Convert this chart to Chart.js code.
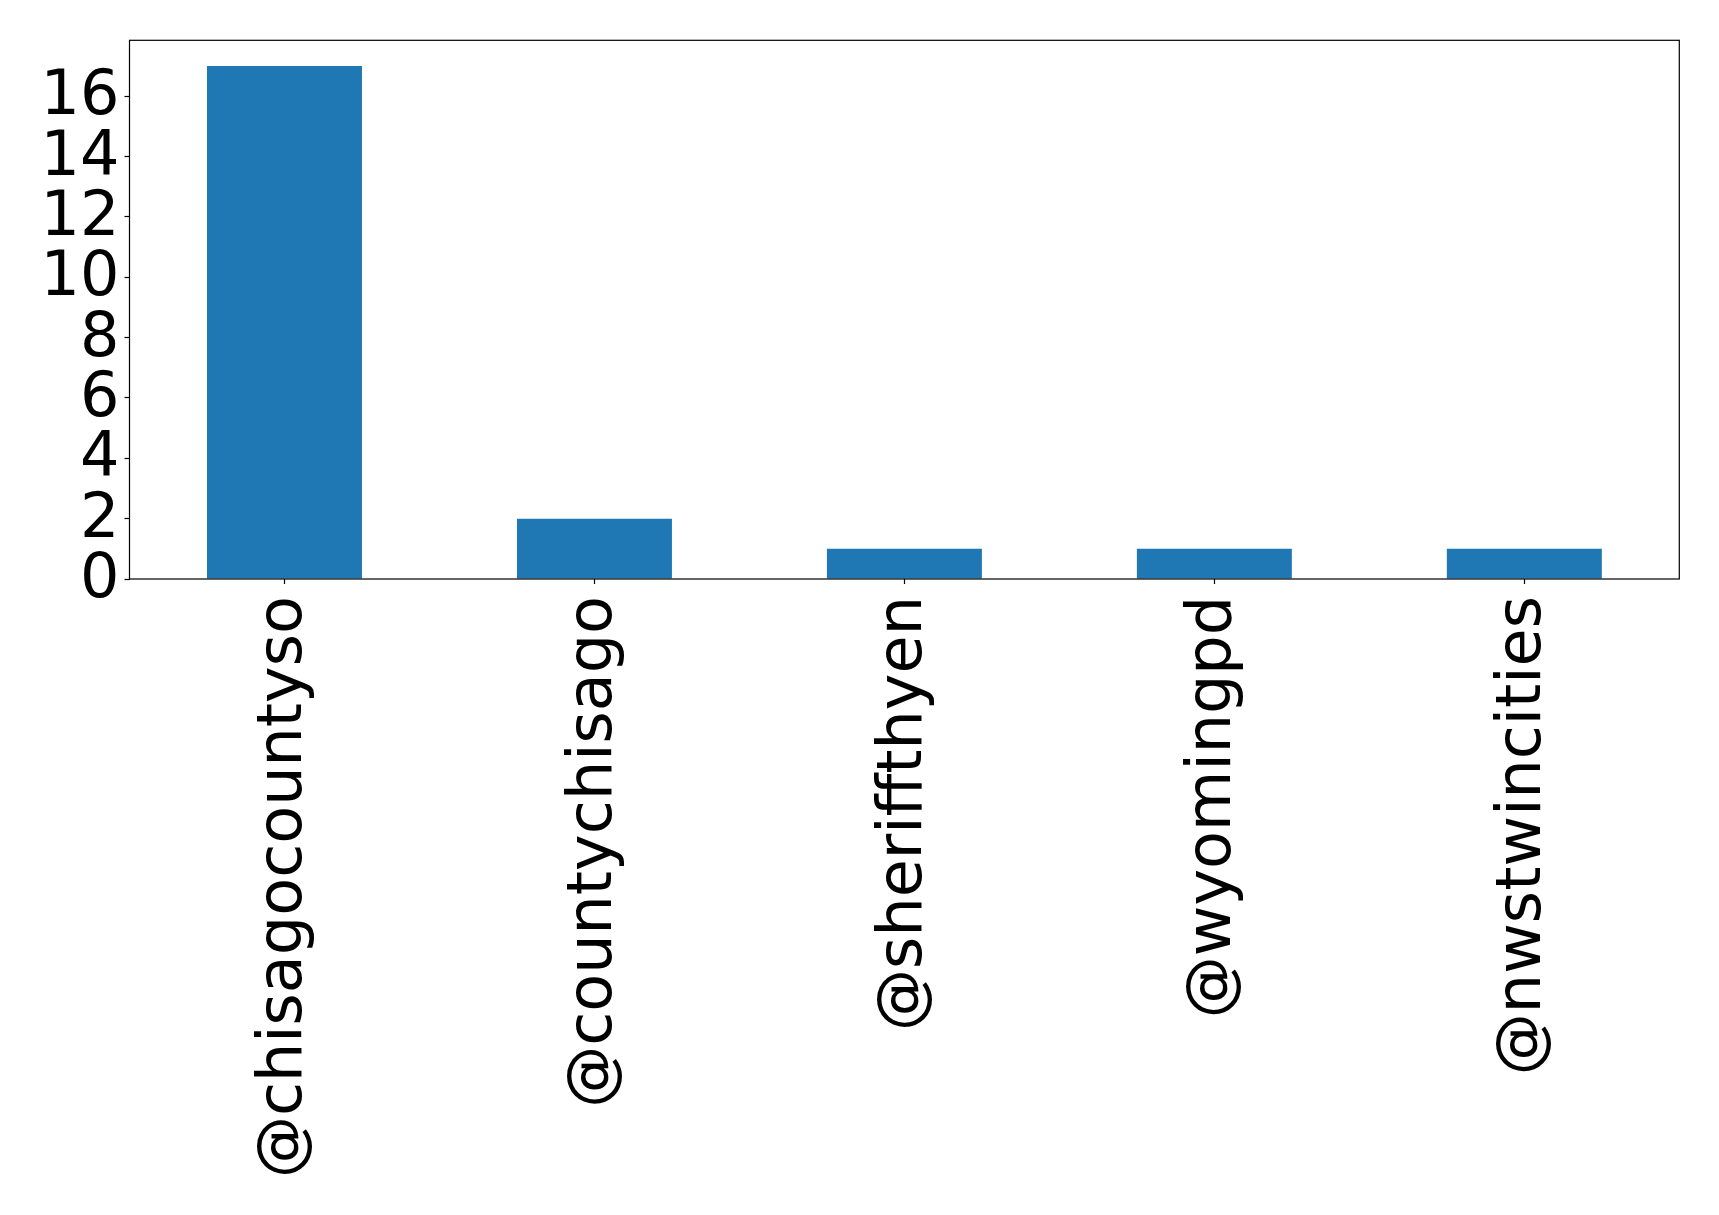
<!DOCTYPE html>
<html>
<head>
<meta charset="utf-8">
<script src="https://cdn.jsdelivr.net/npm/chart.js@4/dist/chart.umd.min.js"></script>
<style>
  body { margin: 0; background: #fff; }
  #wrap { width: 1719px; height: 1215px; }
</style>
</head>
<body>
<div id="wrap"><canvas id="barChart" width="1719" height="1215"></canvas></div>
<script>
const accounts = [
  "@chisagocountyso",
  "@countychisago",
  "@sheriffthyen",
  "@wyomingpd",
  "@nwstwincities",
];
const counts = [17, 2, 1, 1, 1];
const yTicks = [0, 2, 4, 6, 8, 10, 12, 14, 16];

const tickFont = { family: "DejaVu Sans", size: 62 };

// matplotlib-style box around the plot area
const frame = {
  id: "frame",
  afterDraw(chart) {
    const { ctx, chartArea: a } = chart;
    ctx.save();
    ctx.strokeStyle = "#000";
    ctx.lineWidth = 1.2;
    ctx.strokeRect(a.left, a.top, a.right - a.left, a.bottom - a.top);
    ctx.restore();
  },
};

new Chart(document.getElementById("barChart"), {
  type: "bar",
  data: {
    labels: accounts,
    datasets: [
      {
        data: counts,
        backgroundColor: "#1f77b4",
        borderWidth: 0,
        barPercentage: 0.5,
        categoryPercentage: 1,
      },
    ],
  },
  plugins: [frame],
  options: {
    responsive: false,
    animation: false,
    devicePixelRatio: 1,
    layout: { padding: { top: 40.3, right: 39.7, left: 0, bottom: 0 } },
    plugins: {
      legend: { display: false },
      tooltip: { enabled: false },
    },
    scales: {
      x: {
        offset: true,
        border: { display: false },
        grid: {
          display: true,
          offset: false,
          drawOnChartArea: false,
          drawTicks: true,
          tickLength: 5,
          tickWidth: 1.2,
          tickColor: "#000",
        },
        ticks: {
          autoSkip: false,
          minRotation: 90,
          maxRotation: 90,
          padding: 12,
          color: "#000",
          font: tickFont,
        },
        afterFit(scale) {
          scale.height = 636;
          scale.paddingLeft = 0;
          scale.paddingRight = 0;
        },
      },
      y: {
        min: 0,
        max: 17.85,
        border: { display: false },
        grid: {
          display: true,
          drawOnChartArea: false,
          drawTicks: true,
          tickLength: 5,
          tickWidth: 1.2,
          tickColor: "#000",
        },
        ticks: {
          autoSkip: false,
          padding: 5,
          labelOffset: 2,
          color: "#000",
          font: tickFont,
        },
        afterBuildTicks(scale) {
          scale.ticks = yTicks.map((v) => ({ value: v }));
        },
        afterFit(scale) {
          scale.width = 129.5;
          scale.paddingTop = 0;
          scale.paddingBottom = 0;
        },
      },
    },
  },
});
</script>
</body>
</html>
